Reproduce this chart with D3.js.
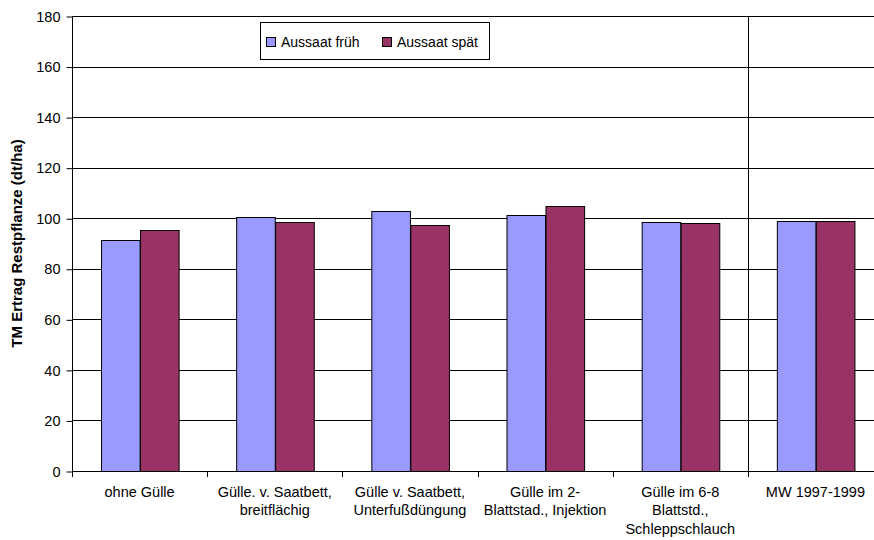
<!DOCTYPE html>
<html>
<head>
<meta charset="utf-8">
<script src="https://cdn.jsdelivr.net/npm/d3@7"></script>
<style>
  html, body { margin: 0; padding: 0; background: #fff; }
  text { font-family: Arial, "Liberation Sans", sans-serif; fill: #000; }
</style>
</head>
<body>
<svg id="chart" width="874" height="540"></svg>
<script>
const categories = [
  "ohne Gülle",
  "Gülle. v. Saatbett,\nbreitflächig",
  "Gülle v. Saatbett,\nUnterfußdüngung",
  "Gülle im 2-\nBlattstad., Injektion",
  "Gülle im 6-8\nBlattstd.,\nSchleppschlauch",
  "MW 1997-1999"
];
const seriesNames = ["Aussaat früh", "Aussaat spät"];
const frueh = [91.4, 100.5, 102.8, 101.4, 98.4, 98.8];
const spaet = [95.2, 98.4, 97.2, 104.8, 98.2, 98.8];
const yTicks = [0, 20, 40, 60, 80, 100, 120, 140, 160, 180];
const colors = ["#9999FF", "#993366"];

(function () {
const svg = d3.select("#chart");
const pL = 72, pR = 883, pT = 16, pB = 471;

const x = d3.scaleBand().domain(categories).range([pL, pR]).paddingInner(0).paddingOuter(0);
const xs = d3.scaleBand().domain(seriesNames).range([0, x.bandwidth()]).paddingInner(0).paddingOuter(0.75);
const y = d3.scaleLinear().domain([0, 180]).range([pB, pT]);

// gridlines
svg.append("g").selectAll("line").data(yTicks.filter(d => d > 0)).join("line")
  .attr("x1", pL).attr("x2", pR)
  .attr("y1", d => Math.round(y(d)) + 0.5).attr("y2", d => Math.round(y(d)) + 0.5)
  .attr("stroke", "#000").attr("stroke-width", 1);

// separator line before the mean category
svg.append("line")
  .attr("x1", Math.round(x(categories[5])) + 0.5).attr("x2", Math.round(x(categories[5])) + 0.5)
  .attr("y1", pT).attr("y2", pB + 6)
  .attr("stroke", "#000");

// bars
const data = categories.map((c, i) => ({ c, vals: [frueh[i], spaet[i]] }));
const groups = svg.append("g").selectAll("g").data(data).join("g")
  .attr("transform", d => `translate(${x(d.c)},0)`);
groups.selectAll("rect").data(d => d.vals.map((v, j) => ({ v, s: seriesNames[j], j }))).join("rect")
  .attr("x", d => Math.round(xs(d.s)) + 0.5)
  .attr("width", xs.bandwidth())
  .attr("y", d => Math.round(y(d.v)) + 0.5)
  .attr("height", d => y(0) - Math.round(y(d.v)))
  .attr("fill", d => colors[d.j])
  .attr("stroke", "#000").attr("stroke-width", 1);

// y axis
const yAxis = d3.axisLeft(y).tickValues(yTicks).tickSize(6).tickPadding(6).tickFormat(d3.format("d"));
const gy = svg.append("g").attr("transform", `translate(${pL + 0.5},0.5)`).call(yAxis);
gy.select(".domain").remove();
gy.selectAll(".tick line").attr("stroke", "#000");
gy.selectAll(".tick text").style("font-size", "14.5px").style("font-family", "Arial, 'Liberation Sans', sans-serif").attr("fill", "#000");
svg.append("line").attr("x1", pL + 0.5).attr("x2", pL + 0.5).attr("y1", pT).attr("y2", pB + 0.5).attr("stroke", "#000");

// x axis
svg.append("line").attr("x1", pL).attr("x2", pR).attr("y1", pB + 0.5).attr("y2", pB + 0.5).attr("stroke", "#000");
const bounds = categories.map(c => x(c));
svg.append("g").selectAll("line").data(bounds).join("line")
  .attr("x1", d => Math.round(d) + 0.5).attr("x2", d => Math.round(d) + 0.5)
  .attr("y1", pB).attr("y2", pB + 6)
  .attr("stroke", "#000");

const xl = svg.append("g").selectAll("text").data(categories).join("text")
  .attr("x", d => x(d) + x.bandwidth() / 2)
  .attr("y", 497)
  .attr("text-anchor", "middle")
  .style("font-size", "14.5px");
xl.each(function(d) {
  const t = d3.select(this);
  d.split("\n").forEach((line, i) => {
    t.append("tspan").attr("x", x(d) + x.bandwidth() / 2).attr("dy", i === 0 ? 0 : 18.3).text(line);
  });
});

// y title
svg.append("text")
  .attr("transform", `translate(22,${(pT + pB) / 2}) rotate(-90)`)
  .attr("text-anchor", "middle")
  .style("font-size", "15px").style("font-weight", "bold")
  .text("TM Ertrag Restpflanze (dt/ha)");

// legend
const lg = svg.append("g");
lg.append("rect").attr("x", 260.5).attr("y", 22.5).attr("width", 229).attr("height", 37)
  .attr("fill", "#fff").attr("stroke", "#000");
const legX = [266, 382];
seriesNames.forEach((s, i) => {
  lg.append("rect").attr("x", legX[i] + 0.5).attr("y", 37.5).attr("width", 9).attr("height", 9)
    .attr("fill", colors[i]).attr("stroke", "#000");
  lg.append("text").attr("x", legX[i] + 15).attr("y", 47).style("font-size", "14px").text(s);
});
})();
</script>
</body>
</html>
